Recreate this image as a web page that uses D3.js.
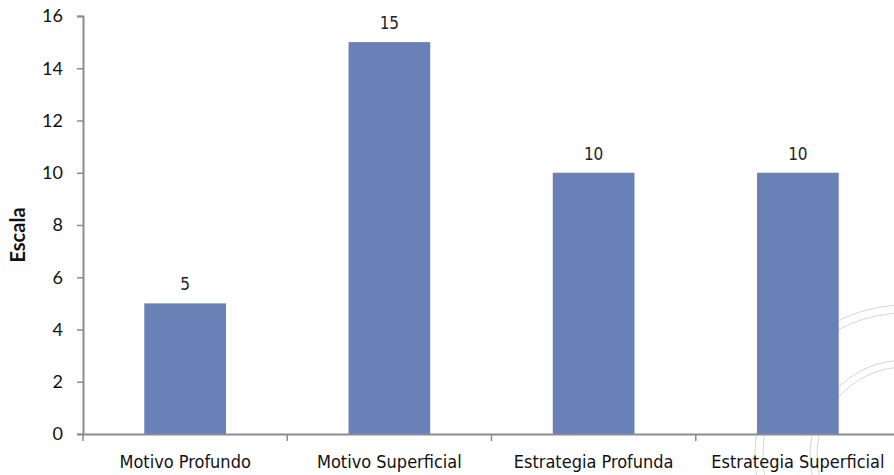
<!DOCTYPE html>
<html>
<head>
<meta charset="utf-8">
<script src="https://cdn.jsdelivr.net/npm/d3@7"></script>
<style>
  html, body { margin: 0; padding: 0; background: #fff; }
  svg { display: block; }
</style>
</head>
<body>
<svg id="chart" width="894" height="475"></svg>
<script>
const categories = ["Motivo Profundo", "Motivo Superficial", "Estrategia Profunda", "Estrategia Superficial"];
const values = [5, 15, 10, 10];
const yTicks = [0, 2, 4, 6, 8, 10, 12, 14, 16];
const yTitle = "Escala";

const svg = d3.select("#chart");
const margin = { left: 83, right: -6, top: 16, bottom: 41 };
const W = 894, H = 475;
const narrowFont = "'DejaVu Sans Condensed', 'Liberation Sans Narrow', sans-serif";

const x = d3.scaleBand()
  .domain(categories)
  .range([margin.left, W - margin.right])
  .paddingInner(0.6)
  .paddingOuter(0.3);

const xOuter = d3.scaleBand()
  .domain(categories)
  .range([margin.left, W - margin.right]);

const y = d3.scaleLinear()
  .domain([0, 16])
  .range([H - margin.bottom, margin.top]);

const axisColor = "#8c8c8c";

// faint decorative emblem in the lower right corner
const emblem = svg.append("g").attr("fill", "none").attr("stroke", "#d6d6d6").attr("stroke-width", 1);
[150, 142, 95, 88].forEach(r => emblem.append("circle").attr("cx", 905).attr("cy", 455).attr("r", r));

// bars
svg.append("g").selectAll("rect")
  .data(values)
  .join("rect")
  .attr("x", (d, i) => x(categories[i]))
  .attr("y", d => y(d))
  .attr("width", x.bandwidth())
  .attr("height", d => y(0) - y(d))
  .attr("fill", "#6a81b8");

// value labels
svg.append("g").selectAll("text")
  .data(values)
  .join("text")
  .attr("x", (d, i) => x(categories[i]) + x.bandwidth() / 2)
  .attr("y", d => y(d) - 13)
  .attr("text-anchor", "middle")
  .attr("font-family", narrowFont)
  .attr("font-size", 17)
  .attr("fill", "#222")
  .text(d => d);

// y axis
const yAxis = svg.append("g")
  .attr("transform", `translate(${margin.left},0)`)
  .call(d3.axisLeft(y).tickValues(yTicks).tickSize(6).tickPadding(14).tickFormat(d3.format("d")));
yAxis.select(".domain").attr("stroke", axisColor).attr("stroke-width", 2);
yAxis.selectAll(".tick line").attr("stroke", axisColor).attr("stroke-width", 1.5);
yAxis.selectAll(".tick text")
  .attr("font-family", "Lato, 'Open Sans', sans-serif")
  .attr("font-size", 18)
  .attr("fill", "#111");

// x axis
const xAxis = svg.append("g")
  .attr("transform", `translate(0,${y(0)})`)
  .call(d3.axisBottom(xOuter).tickSize(0).tickPadding(21));
xAxis.select(".domain").attr("stroke", axisColor).attr("stroke-width", 2);
xAxis.selectAll(".tick text")
  .attr("font-family", narrowFont)
  .attr("font-size", 18)
  .attr("fill", "#111");

// category separators
svg.append("g").selectAll("line")
  .data(categories)
  .join("line")
  .attr("x1", d => xOuter(d))
  .attr("x2", d => xOuter(d))
  .attr("y1", y(0))
  .attr("y2", y(0) + 7)
  .attr("stroke", axisColor)
  .attr("stroke-width", 1.5);

// y axis title
svg.append("text")
  .attr("transform", `translate(25,${(y(0) + y(16)) / 2 + 10}) rotate(-90)`)
  .attr("text-anchor", "middle")
  .attr("font-family", "Lato, 'Open Sans', sans-serif")
  .attr("font-weight", "bold")
  .attr("font-size", 20)
  .attr("fill", "#111")
  .text(yTitle);
</script>
</body>
</html>
